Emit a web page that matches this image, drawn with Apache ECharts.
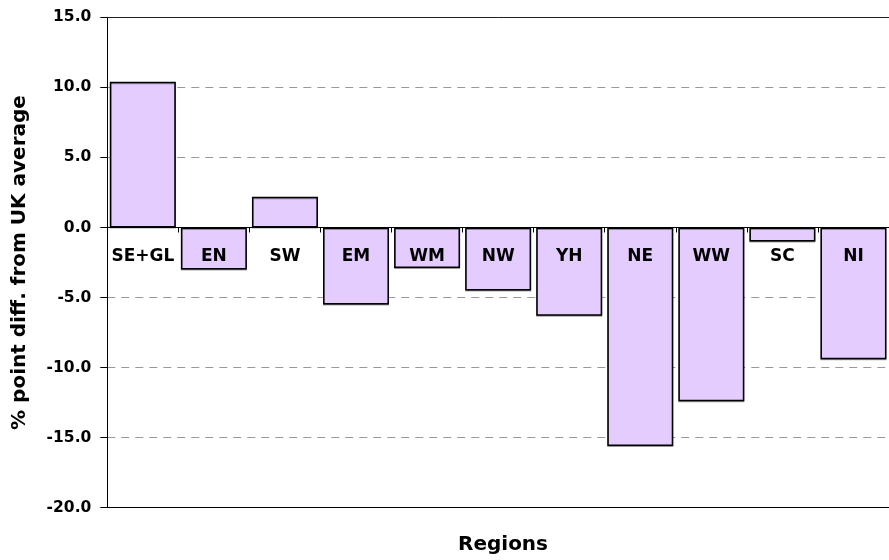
<!DOCTYPE html>
<html>
<head>
<meta charset="utf-8">
<script src="https://cdn.jsdelivr.net/npm/echarts@6/dist/echarts.min.js"></script>
<style>
  html, body { margin: 0; padding: 0; background: #fff; }
  #chart { width: 889px; height: 560px; }
</style>
</head>
<body>
<div id="chart"></div>
<script>
// Regional differences from the UK average, in percentage points
const categories = ['SE+GL', 'EN', 'SW', 'EM', 'WM', 'NW', 'YH', 'NE', 'WW', 'SC', 'NI'];
const diffValues = [10.4, -3.0, 2.2, -5.5, -2.9, -4.5, -6.3, -15.6, -12.4, -1.0, -9.4];
const yTickValues = [-20, -15, -10, -5, 0, 5, 10, 15];

const FONT = '"DejaVu Sans", Verdana, sans-serif';
const yMin = yTickValues[0];
const yMax = yTickValues[yTickValues.length - 1];
const yStep = yTickValues[1] - yTickValues[0];

const H = 560;
const PLOT = { left: 107.3, right: -10.3, top: 17.3, bottom: 52.3 };
// pixel row of the zero line, used to seat the category labels just under it
const zeroY = PLOT.top + (H - PLOT.top - PLOT.bottom) * (yMax - 0) / (yMax - yMin);

const chart = echarts.init(document.getElementById('chart'), null, { renderer: 'canvas' });

chart.setOption({
  animation: false,
  backgroundColor: '#ffffff',
  grid: [
    Object.assign({ containLabel: false }, PLOT),
    // label strip: same width, bottom edge on the zero line
    { left: PLOT.left, right: PLOT.right, top: PLOT.top, bottom: H - zeroY, containLabel: false }
  ],
  xAxis: [
    {
      // category axis crossing at zero
      type: 'category',
      data: categories,
      gridIndex: 0,
      z: 5,
      axisLine: { show: true, onZero: true, lineStyle: { color: '#000', width: 1 } },
      axisTick: { show: true, length: 5, alignWithLabel: false, lineStyle: { color: '#000' } },
      axisLabel: { show: false },
      splitLine: { show: false }
    },
    {
      // plot top border
      type: 'category',
      data: categories,
      gridIndex: 0,
      position: 'top',
      axisLine: { show: true, onZero: false, lineStyle: { color: '#222', width: 1 } },
      axisTick: { show: false },
      axisLabel: { show: false },
      splitLine: { show: false }
    },
    {
      // region labels under the zero line, above the bars
      type: 'category',
      data: categories,
      gridIndex: 1,
      position: 'bottom',
      z: 6,
      axisLine: { show: false, onZero: false },
      axisTick: { show: false },
      axisLabel: {
        margin: 21, fontSize: 17, fontWeight: 'bold', fontFamily: FONT, color: '#000', interval: 0
      },
      splitLine: { show: false }
    }
  ],
  yAxis: [
    {
      type: 'value',
      gridIndex: 0,
      min: yMin,
      max: yMax,
      interval: yStep,
      axisLine: { show: true, onZero: false, lineStyle: { color: '#000', width: 1 } },
      axisTick: { show: true, inside: false, length: 7, lineStyle: { color: '#000' } },
      axisLabel: {
        margin: 16, fontSize: 15.5, fontWeight: 'bold', fontFamily: FONT, color: '#000',
        formatter: v => v.toFixed(1)
      },
      splitLine: { show: true, lineStyle: { color: '#999', width: 1, type: [8, 6] } },
      name: '% point diff. from UK average',
      nameLocation: 'middle',
      nameGap: 78,
      nameRotate: 90,
      nameTextStyle: { fontSize: 20, fontWeight: 'bold', fontFamily: FONT, color: '#000' }
    },
    {
      type: 'value',
      gridIndex: 1,
      show: false,
      min: 0,
      max: 1
    }
  ],
  graphic: [
    {
      type: 'text',
      x: 503,
      y: 545,
      style: {
        text: 'Regions',
        font: 'bold 20px ' + FONT,
        fill: '#000',
        textAlign: 'center',
        textVerticalAlign: 'middle'
      }
    }
  ],
  series: [
    {
      type: 'bar',
      xAxisIndex: 0,
      yAxisIndex: 0,
      data: diffValues,
      barWidth: 66,
      itemStyle: {
        color: '#E5CCFF',
        borderColor: '#000',
        borderWidth: 1.5,
        shadowColor: 'rgba(0,0,0,0.35)',
        shadowOffsetX: 0,
        shadowOffsetY: 1,
        shadowBlur: 0
      },
      // plot bottom border along the axis minimum
      markLine: {
        silent: true,
        symbol: ['none', 'none'],
        label: { show: false },
        lineStyle: { color: '#000', width: 1.2, type: 'solid' },
        data: [{ yAxis: yMin }]
      }
    }
  ]
});
</script>
</body>
</html>
